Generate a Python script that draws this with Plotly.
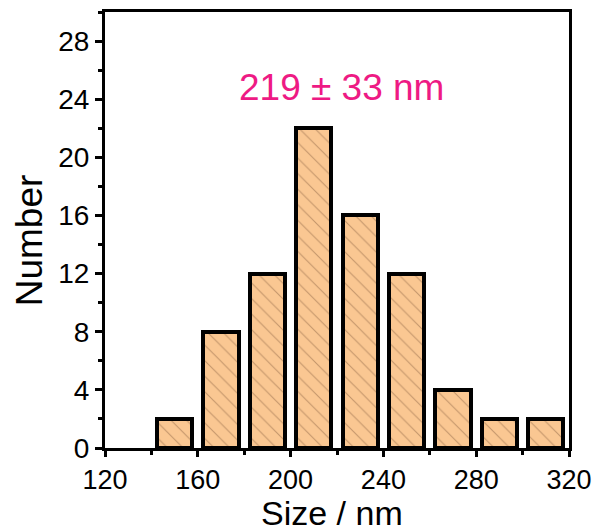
import plotly.graph_objects as go

# Data
bin_centers = [150, 170, 190, 210, 230, 250, 270, 290, 310]
counts = [2, 8, 12, 22, 16, 12, 4, 2, 2]
x_ticks = [120, 160, 200, 240, 280, 320]
y_ticks = [0, 4, 8, 12, 16, 20, 24, 28]
label_text = "219 ± 33 nm"
x_title = "Size / nm"
y_title = "Number"

FONT = "Liberation Sans, Arial, sans-serif"

fig = go.Figure()
fig.add_trace(go.Bar(
    x=bin_centers,
    y=counts,
    width=15.2,
    marker=dict(
        color="#FAC792",
        line=dict(color="black", width=4),
        pattern=dict(shape="\\", fgcolor="#8E6444", bgcolor="#FAC792",
                     size=11, solidity=0.1, fillmode="overlay"),
    ),
    showlegend=False,
))

fig.add_annotation(
    x=222, y=24.8, xref="x", yref="y",
    text=label_text, showarrow=False,
    font=dict(family=FONT, size=37, color="#EE1A84"),
    xanchor="center", yanchor="middle",
)

# axis titles as annotations for exact placement
fig.add_annotation(
    x=0.489, y=-0.148, xref="paper", yref="paper",
    text=x_title, showarrow=False,
    font=dict(family=FONT, size=34, color="black"),
    xanchor="center", yanchor="middle", borderpad=0,
)
fig.add_annotation(
    x=-0.162, y=0.476, xref="paper", yref="paper",
    text=y_title, showarrow=False, textangle=-90,
    font=dict(family=FONT, size=37, color="black"),
    xanchor="center", yanchor="middle",
)

axis_common = dict(
    showline=True, linecolor="black", linewidth=3, mirror=True,
    ticks="outside", tickwidth=3, tickcolor="black",
    showgrid=False, zeroline=False,
)

fig.update_xaxes(
    range=[120, 320], tickvals=x_ticks, ticklen=6,
    tickfont=dict(family=FONT, size=27, color="black"),
    minor=dict(ticks="outside", ticklen=4, tickwidth=3, tickcolor="black", dtick=20, tick0=120),
    **axis_common,
)
fig.update_yaxes(
    range=[0, 30], tickvals=y_ticks, ticklen=7,
    tickfont=dict(family=FONT, size=28, color="black"),
    minor=dict(ticks="outside", ticklen=4, tickwidth=3, tickcolor="black", dtick=2, tick0=0),
    **axis_common,
)

fig.update_layout(
    width=601, height=531,
    margin=dict(l=105, r=30, t=9, b=83),
    plot_bgcolor="white", paper_bgcolor="white",
    bargap=0,
)

fig.write_html("out.html")
